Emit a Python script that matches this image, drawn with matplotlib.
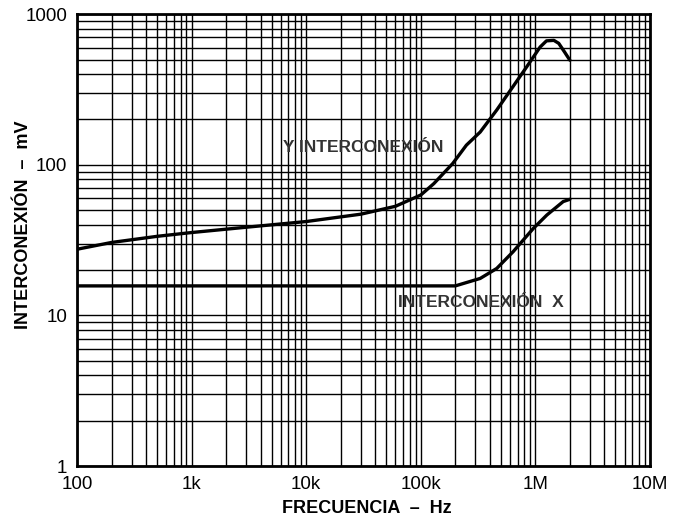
import matplotlib
matplotlib.use("Agg")
from matplotlib import pyplot as plt
from matplotlib.ticker import FixedLocator, FixedFormatter, NullFormatter

plt.rcParams['font.family'] = ['Liberation Sans', 'DejaVu Sans']

# Curva Y (frecuencia en Hz, interconexión en mV)
freq_y = [100, 200, 500, 1e3, 3e3, 1e4, 3e4, 6e4, 1e5, 1.3e5, 1.9e5, 2.5e5,
          3.3e5, 4.6e5, 8.4e5, 1.1e6, 1.25e6, 1.45e6, 1.6e6, 1.8e6, 2e6]
mv_y = [27.5, 30.5, 33.5, 35.5, 38.5, 42, 47, 53, 63, 75, 102, 135,
        165, 231, 447, 605, 665, 670, 640, 560, 495]

# Curva X
freq_x = [100, 2e5, 3.3e5, 4.6e5, 6.4e5, 9.6e5, 1.26e6, 1.75e6, 2e6]
mv_x = [15.7, 15.7, 17.6, 20.5, 26.5, 37.8, 46.4, 57, 59]

xticks = [1e2, 1e3, 1e4, 1e5, 1e6, 1e7]
xlabels = ["100", "1k", "10k", "100k", "1M", "10M"]
yticks = [1, 10, 100, 1000]
ylabels = ["1", "10", "100", "1000"]

fig = plt.figure(figsize=(6.82, 5.17), dpi=100)
ax = fig.add_axes([0.113, 0.0986, 0.84, 0.874])

ax.set_xscale('log')
ax.set_yscale('log')
ax.set_xlim(1e2, 1e7)
ax.set_ylim(1, 1000)

ax.grid(which='both', color='black', lw=1.0)
ax.xaxis.set_major_locator(FixedLocator(xticks))
ax.xaxis.set_major_formatter(FixedFormatter(xlabels))
ax.yaxis.set_major_locator(FixedLocator(yticks))
ax.yaxis.set_major_formatter(FixedFormatter(ylabels))
ax.xaxis.set_minor_formatter(NullFormatter())
ax.yaxis.set_minor_formatter(NullFormatter())
ax.tick_params(which='both', length=0, labelsize=13.5)
ax.tick_params(axis='x', pad=7)
ax.tick_params(axis='y', pad=7)

for sp in ax.spines.values():
    sp.set_linewidth(2.0)

ax.plot(freq_y, mv_y, color='black', lw=2.4, solid_capstyle='round')
ax.plot(freq_x, mv_x, color='black', lw=2.4, solid_capstyle='round')

ax.text(6.3e3, 131, "Y INTERCONEXIÓN", fontsize=12.5, color='#333333',
        ha='left', va='center', fontweight='bold')
ax.text(6.3e4, 12.1, "INTERCONEXIÓN  X", fontsize=12.5, color='#333333',
        ha='left', va='center', fontweight='bold')

ax.set_xlabel("FRECUENCIA  –  Hz", fontsize=13, fontweight='bold')
ax.set_ylabel("INTERCONEXIÓN  –  mV", fontsize=13, fontweight='bold')
ax.xaxis.set_label_coords(0.506, -0.075)
ax.yaxis.set_label_coords(-0.078, 0.533)

fig.savefig("out.png", dpi=100)
